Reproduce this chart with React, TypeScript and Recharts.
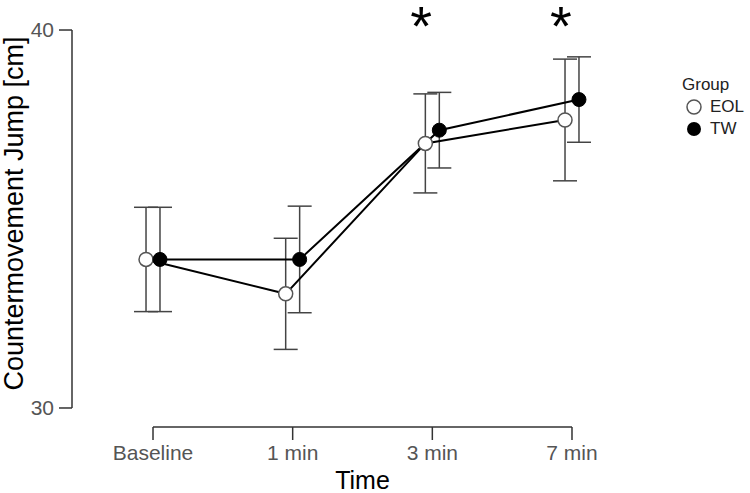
import React from 'react'
import { ScatterChart, Scatter, XAxis, YAxis, ErrorBar, ReferenceLine } from 'recharts'

const timeLabels = ['Baseline', '1 min', '3 min', '7 min']
const eolMean = [33.93, 33.02, 37.0, 37.62]
const eolSd = [1.38, 1.47, 1.31, 1.61]
const twMean = [33.93, 33.93, 37.35, 38.16]
const twSd = [1.38, 1.41, 1.0, 1.13]
const starTimes = ['3 min', '7 min']
const starLevel = 40.45

const DODGE = 0.05
const X_DOMAIN: [number, number] = [-0.58, 3.58]
const Y_DOMAIN: [number, number] = [29.497, 40.794]
const AXIS = '#333'
const FONT = 'Liberation Sans, Arial, sans-serif'
const TICK = { fontSize: 21, fill: '#555', fontFamily: FONT }

const eolData = timeLabels.map((t, i) => ({ x: i - DODGE, y: eolMean[i], err: eolSd[i] }))
const twData = timeLabels.map((t, i) => ({ x: i + DODGE, y: twMean[i], err: twSd[i] }))
const starData = starTimes.map(t => ({ x: timeLabels.indexOf(t) - 0.08, y: starLevel }))

const Empty = () => <g />

const OpenDot = (p: any) => <circle cx={p.cx} cy={p.cy} r={7} fill="#fff" stroke="#555" strokeWidth={1.5} />
const FilledDot = (p: any) => <circle cx={p.cx} cy={p.cy} r={7} fill="#000" stroke="#000" strokeWidth={1} />
const Star = (p: any) => (
  <text x={p.cx} y={p.cy + 32} textAnchor="middle" fontSize={56} fontFamily={FONT} fill="#000">*</text>
)

function GroupLegend() {
  const font = { fontFamily: FONT, fontSize: 17, color: '#222' }
  return (
    <div style={{ position: 'absolute', left: 682, top: 74, ...font }}>
      <div style={{ height: 22, lineHeight: '22px' }}>Group</div>
      <div style={{ display: 'flex', alignItems: 'center', height: 22 }}>
        <svg width={24} height={22}><circle cx={12} cy={11} r={7} fill="#fff" stroke="#555" strokeWidth={1.5} /></svg>
        <span style={{ marginLeft: 4 }}>EOL</span>
      </div>
      <div style={{ display: 'flex', alignItems: 'center', height: 22 }}>
        <svg width={24} height={22}><circle cx={12} cy={11} r={7} fill="#000" /></svg>
        <span style={{ marginLeft: 4 }}>TW</span>
      </div>
    </div>
  )
}

export default function App() {
  return (
    <div style={{ position: 'absolute', left: 0, top: 0, width: 750, height: 493, background: '#fff' }}>
      <ScatterChart width={750} height={493} margin={{ top: 0, right: 97, bottom: 0, left: 0 }}>
        <XAxis
          type="number"
          dataKey="x"
          domain={X_DOMAIN}
          ticks={[0, 1, 2, 3]}
          tickFormatter={(v: number) => timeLabels[Math.round(v)]}
          allowDataOverflow
          axisLine={false}
          tickLine={{ stroke: AXIS, strokeWidth: 1.5 }}
          tickSize={13}
          tickMargin={5}
          tick={TICK}
          height={66}
          interval={0}
          label={{ value: 'Time', position: 'insideBottom', offset: 4, style: { fontSize: 25, fill: '#000', fontFamily: FONT } }}
        />
        <YAxis
          type="number"
          dataKey="y"
          domain={Y_DOMAIN}
          ticks={[30, 40]}
          allowDataOverflow
          axisLine={false}
          tickLine={{ stroke: AXIS, strokeWidth: 1.5 }}
          tickSize={13}
          tickMargin={5}
          tick={TICK}
          width={72}
          label={{ value: 'Countermovement Jump [cm]', angle: -90, position: 'insideLeft', offset: 13, style: { textAnchor: 'middle', fontSize: 27, fill: '#000', fontFamily: FONT } }}
        />
        <ReferenceLine segment={[{ x: 0, y: Y_DOMAIN[0] }, { x: 3, y: Y_DOMAIN[0] }]} stroke={AXIS} strokeWidth={1.5} ifOverflow="visible" />
        <ReferenceLine segment={[{ x: X_DOMAIN[0], y: 30 }, { x: X_DOMAIN[0], y: 40 }]} stroke={AXIS} strokeWidth={1.5} ifOverflow="visible" />

        <Scatter data={eolData} shape={Empty} line={{ stroke: '#000', strokeWidth: 2 }} isAnimationActive={false}>
          <ErrorBar dataKey="err" direction="y" width={12} stroke="#444" strokeWidth={1.5} isAnimationActive={false} />
        </Scatter>
        <Scatter data={twData} shape={Empty} line={{ stroke: '#000', strokeWidth: 2 }} isAnimationActive={false}>
          <ErrorBar dataKey="err" direction="y" width={12} stroke="#444" strokeWidth={1.5} isAnimationActive={false} />
        </Scatter>
        <Scatter data={eolData} shape={OpenDot} isAnimationActive={false} />
        <Scatter data={twData} shape={FilledDot} isAnimationActive={false} />
        <Scatter data={starData} shape={Star} isAnimationActive={false} />
      </ScatterChart>
      <GroupLegend />
    </div>
  )
}
